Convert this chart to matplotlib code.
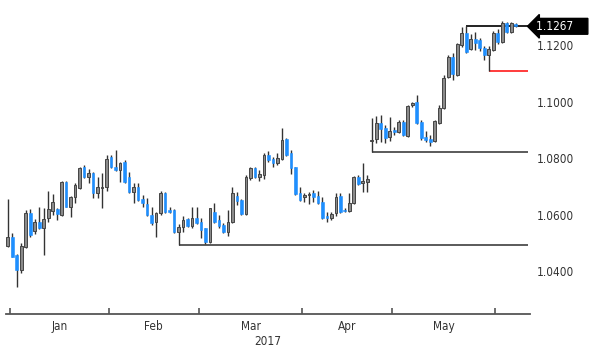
import matplotlib.pyplot as plt
import matplotlib.transforms as mtransforms
from matplotlib import font_manager
import numpy as np

# narrow font if there is one
installed = {f.name for f in font_manager.fontManager.ttflist}
narrow = [f for f in ['Liberation Sans Narrow', 'Arial Narrow'] if f in installed]
plt.rcParams['font.family'] = narrow + ['DejaVu Sans']
plt.rcParams['font.stretch'] = 'condensed'

# daily EUR/USD candles, 30 Dec 2016 .. 7 Jun 2017
opens = [1.0490, 1.0522, 1.0458, 1.0405, 1.0487, 1.0607, 1.0544, 1.0576, 1.0552, 1.0587,
         1.0613, 1.0620, 1.0600, 1.0716, 1.0629, 1.0664, 1.0694, 1.0768, 1.0733, 1.0749,
         1.0678, 1.0694, 1.0698, 1.0804, 1.0770, 1.0758, 1.0786, 1.0735, 1.0682, 1.0700,
         1.0655, 1.0638, 1.0599, 1.0576, 1.0605, 1.0676, 1.0617, 1.0617, 1.0540, 1.0558,
         1.0584, 1.0560, 1.0588, 1.0575, 1.0552, 1.0505, 1.0611, 1.0582, 1.0564, 1.0540,
         1.0576, 1.0666, 1.0652, 1.0603, 1.0729, 1.0765, 1.0735, 1.0742, 1.0812, 1.0797,
         1.0782, 1.0797, 1.0867, 1.0818, 1.0768, 1.0676, 1.0662, 1.0669, 1.0676, 1.0666,
         1.0646, 1.0597, 1.0590, 1.0605, 1.0666, 1.0618, 1.0614, 1.0643, 1.0735, 1.0714,
         1.0716, 1.0862, 1.0867, 1.0926, 1.0906, 1.0874, 1.0899, 1.0894, 1.0930, 1.0879,
         1.0989, 1.1000, 1.0930, 1.0874, 1.0867, 1.0862, 1.0924, 1.0977, 1.1089, 1.1160,
         1.1093, 1.1200, 1.1242, 1.1186, 1.1223, 1.1219, 1.1189, 1.1166, 1.1183, 1.1245,
         1.1210, 1.1278, 1.1248, 1.1276]
highs = [1.0655, 1.0535, 1.0462, 1.0499, 1.0617, 1.0619, 1.0584, 1.0629, 1.0623, 1.0685,
         1.0674, 1.0624, 1.0719, 1.0720, 1.0667, 1.0712, 1.0770, 1.0776, 1.0761, 1.0753,
         1.0735, 1.0747, 1.0813, 1.0812, 1.0829, 1.0788, 1.0794, 1.0753, 1.0711, 1.0711,
         1.0670, 1.0658, 1.0629, 1.0611, 1.0684, 1.0682, 1.0629, 1.0620, 1.0566, 1.0596,
         1.0588, 1.0629, 1.0629, 1.0590, 1.0555, 1.0625, 1.0641, 1.0599, 1.0570, 1.0617,
         1.0700, 1.0682, 1.0655, 1.0741, 1.0768, 1.0768, 1.0760, 1.0820, 1.0827, 1.0806,
         1.0818, 1.0906, 1.0871, 1.0829, 1.0770, 1.0700, 1.0676, 1.0682, 1.0688, 1.0685,
         1.0664, 1.0611, 1.0611, 1.0676, 1.0676, 1.0624, 1.0676, 1.0737, 1.0741, 1.0782,
         1.0741, 1.0942, 1.0950, 1.0953, 1.0918, 1.0947, 1.0910, 1.0936, 1.0936, 1.0989,
         1.1000, 1.1024, 1.0936, 1.0898, 1.0882, 1.0936, 1.0989, 1.1095, 1.1166, 1.1172,
         1.1208, 1.1266, 1.1268, 1.1239, 1.1248, 1.1225, 1.1197, 1.1197, 1.1251, 1.1257,
         1.1285, 1.1283, 1.1283, 1.1280]
lows = [1.0485, 1.0450, 1.0346, 1.0393, 1.0481, 1.0522, 1.0532, 1.0550, 1.0458, 1.0576,
        1.0599, 1.0581, 1.0597, 1.0626, 1.0591, 1.0641, 1.0690, 1.0729, 1.0714, 1.0658,
        1.0658, 1.0623, 1.0686, 1.0765, 1.0756, 1.0717, 1.0711, 1.0676, 1.0641, 1.0649,
        1.0629, 1.0596, 1.0564, 1.0522, 1.0599, 1.0607, 1.0605, 1.0534, 1.0494, 1.0540,
        1.0556, 1.0552, 1.0567, 1.0517, 1.0495, 1.0501, 1.0570, 1.0552, 1.0535, 1.0525,
        1.0572, 1.0635, 1.0599, 1.0599, 1.0723, 1.0729, 1.0721, 1.0725, 1.0788, 1.0770,
        1.0776, 1.0794, 1.0808, 1.0744, 1.0670, 1.0650, 1.0646, 1.0638, 1.0646, 1.0638,
        1.0584, 1.0576, 1.0581, 1.0596, 1.0605, 1.0611, 1.0611, 1.0638, 1.0705, 1.0682,
        1.0682, 1.0821, 1.0853, 1.0859, 1.0855, 1.0862, 1.0882, 1.0888, 1.0879, 1.0876,
        1.0983, 1.0921, 1.0865, 1.0859, 1.0844, 1.0859, 1.0921, 1.0973, 1.1083, 1.1077,
        1.1091, 1.1194, 1.1174, 1.1183, 1.1183, 1.1180, 1.1148, 1.1109, 1.1180, 1.1206,
        1.1207, 1.1242, 1.1245, 1.1265]
closes = [1.0520, 1.0452, 1.0405, 1.0490, 1.0607, 1.0528, 1.0576, 1.0552, 1.0584, 1.0619,
          1.0644, 1.0603, 1.0716, 1.0629, 1.0662, 1.0706, 1.0766, 1.0735, 1.0749, 1.0678,
          1.0699, 1.0700, 1.0798, 1.0770, 1.0758, 1.0782, 1.0717, 1.0682, 1.0700, 1.0652,
          1.0643, 1.0599, 1.0572, 1.0605, 1.0676, 1.0611, 1.0611, 1.0540, 1.0558, 1.0582,
          1.0560, 1.0588, 1.0570, 1.0546, 1.0505, 1.0623, 1.0576, 1.0560, 1.0540, 1.0576,
          1.0676, 1.0650, 1.0602, 1.0735, 1.0765, 1.0735, 1.0745, 1.0812, 1.0794, 1.0782,
          1.0800, 1.0865, 1.0812, 1.0765, 1.0674, 1.0652, 1.0670, 1.0673, 1.0662, 1.0641,
          1.0588, 1.0590, 1.0604, 1.0662, 1.0611, 1.0614, 1.0641, 1.0735, 1.0709, 1.0719,
          1.0727, 1.0866, 1.0926, 1.0903, 1.0871, 1.0898, 1.0893, 1.0930, 1.0882, 1.0985,
          1.0997, 1.0924, 1.0871, 1.0865, 1.0859, 1.0933, 1.0977, 1.1083, 1.1160, 1.1100,
          1.1206, 1.1242, 1.1177, 1.1221, 1.1209, 1.1189, 1.1166, 1.1185, 1.1245, 1.1210,
          1.1278, 1.1248, 1.1278, 1.1267]

# first candle of each month
months = ['Jan', 'Feb', 'Mar', 'Apr', 'May']
month_starts = [1, 23, 43, 66, 86, 109]

# support / resistance lines: price level, candle they start from
levels = [1.0494, 1.0821, 1.1109, 1.1268]
level_start = [38, 81, 107, 102]
level_colors = ['#5a5a5a', '#5a5a5a', '#ff3b3b', '#222222']

last_price = 1.1267
yticks = [1.04, 1.06, 1.08, 1.10, 1.12]

o = np.array(opens)
h = np.array(highs)
l = np.array(lows)
c = np.array(closes)
x = np.arange(len(o))
up = c >= o

fig = plt.figure(figsize=(6, 3.58), dpi=100)
ax = fig.add_axes([0.0106, 0.1229, 0.8728, 0.8715])

x_right = 116.2
for lvl, start, col in zip(levels, level_start, level_colors):
    ax.hlines(lvl, start, x_right - 0.4, color=col, linewidth=1.4, zorder=1)

ax.vlines(x, l, h, color='#333333', linewidth=1, zorder=2)
ax.bar(x[up], (c - o)[up], bottom=o[up], width=0.6, color='#8a8a8a',
       edgecolor='#444444', linewidth=0.7, zorder=3)
ax.bar(x[~up], (o - c)[~up], bottom=c[~up], width=0.6, color='#1e8fff',
       edgecolor='#1e8fff', linewidth=0.4, zorder=3)

ax.set_xlim(-0.3, x_right)
ax.set_ylim(1.0249, 1.1353)

for side in ['top', 'left', 'right']:
    ax.spines[side].set_visible(False)
ax.spines['bottom'].set_color('#555555')
ax.spines['bottom'].set_linewidth(1.3)

bounds = [m - 0.5 for m in month_starts]
ax.set_xticks(bounds)
ax.set_xticklabels([])
ax.set_xticks([(bounds[k] + bounds[k + 1]) / 2 for k in range(len(months))], minor=True)
ax.set_xticklabels(months, minor=True)
ax.tick_params(axis='x', which='major', direction='in', length=4, color='#555555', width=1.2)
ax.tick_params(axis='x', which='minor', length=0, pad=4, labelsize=8.5, labelcolor='#333333')
ax.set_xlabel('2017', fontsize=8.5, color='#333333', labelpad=2)

ax.yaxis.tick_right()
ax.set_yticks(yticks)
ax.set_yticklabels(['%.4f' % v for v in yticks])
ax.tick_params(axis='y', length=0, pad=5, labelsize=8.5, labelcolor='#333333')

trans = mtransforms.blended_transform_factory(ax.transAxes, ax.transData)
ax.text(1.011, last_price, '%.4f    ' % last_price, transform=trans, fontsize=8.5,
        color='white', va='center', ha='left',
        bbox=dict(boxstyle='larrow,pad=0.12', fc='black', ec='black'))

fig.savefig('out.png', dpi=100)
